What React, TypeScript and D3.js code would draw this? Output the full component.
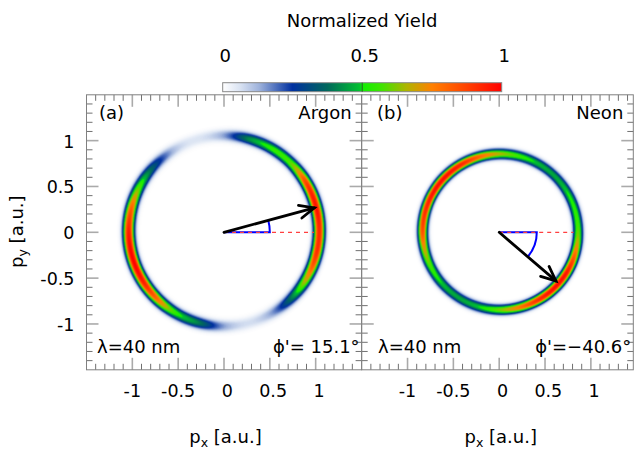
import React, { useMemo } from "react";
import * as d3 from "d3";

// ---------------- data ----------------
const majorTicks = [-1, -0.5, 0, 0.5, 1];
const tickLabels = ["-1", "-0.5", "0", "0.5", "1"];
const minorTicks = [
  -1.4, -1.3, -1.2, -1.1, -0.9, -0.8, -0.7, -0.6, -0.4, -0.3, -0.2, -0.1,
  0.1, 0.2, 0.3, 0.4, 0.6, 0.7, 0.8, 0.9, 1.1, 1.2, 1.3, 1.4,
];

// angular samples (degrees, counter-clockwise from +px)
const angleGrid = [0, 15, 30, 45, 60, 75, 90, 105, 120, 135, 150, 165, 180, 195, 210, 225, 240, 255, 270, 285, 300, 315, 330, 345];
const argonYield = [0.93, 0.97, 0.88, 0.6, 0.54, 0.42, 0.15, 0.06, 0.1, 0.3, 0.54, 0.8, 0.95, 1.0, 0.97, 0.8, 0.54, 0.4, 0.15, 0.07, 0.15, 0.4, 0.7, 0.9];
const neonYield = [0.6, 0.54, 0.5, 0.46, 0.48, 0.55, 0.66, 0.8, 0.93, 0.98, 0.97, 0.92, 0.85, 0.68, 0.55, 0.48, 0.46, 0.5, 0.62, 0.78, 0.92, 0.98, 0.95, 0.78];

// ring geometry (a.u.)
const argonRing = { cx: 0, cy: 0.015, r0: 1.04, w: 0.06, p: 2.4 };
const neonRing = { cx: 0.015, cy: 0.005, r0: 0.85, w: 0.052, p: 2.4 };

const argonPhi = 15.1;
const neonPhi = -40.6;
const argonArrowLen = 1.02;
const neonArrowLen = 0.815;
const argonMarkR = 0.5;
const neonMarkR = 0.41;
const argonDashLen = 0.98;
const neonDashLen = 0.81;

const cbStops = [0, 0.06, 0.13, 0.25, 0.375, 0.49, 0.5, 0.57, 0.66, 0.75, 0.87, 1];
const cbColors = ["#ffffff", "#dbe4f3", "#9fb3dc", "#0030a0", "#00685c", "#00c030", "#10f000", "#40e400", "#b0b400", "#ff8000", "#ff4400", "#ff0000"];
const cbTicks = [0, 0.5, 1];
const cbTickLabels = ["0", "0.5", "1"];

// ---------------- helpers ----------------
const FONT = "DejaVu Sans";
const cmap = d3.scaleLinear<string>().domain(cbStops).range(cbColors).interpolate(d3.interpolateRgb).clamp(true);
const LUT = d3.range(256).map((i) => d3.rgb(cmap(i / 255)));

function angInterp(vals: number[], thDeg: number) {
  const n = vals.length;
  const step = 360 / n;
  const t = (((thDeg % 360) + 360) % 360) / step;
  const i = Math.floor(t);
  const f = t - i;
  const p0 = vals[(i - 1 + n) % n], p1 = vals[i % n], p2 = vals[(i + 1) % n], p3 = vals[(i + 2) % n];
  const v = 0.5 * (2 * p1 + (-p0 + p2) * f + (2 * p0 - 5 * p1 + 4 * p2 - p3) * f * f + (-p0 + 3 * p1 - 3 * p2 + p3) * f * f * f);
  return Math.max(0, Math.min(1, v));
}

function ringImage(xs: any, ys: any, yields: number[], ring: any) {
  const R = ring.r0 + 0.2;
  const x0 = xs(ring.cx - R), x1 = xs(ring.cx + R);
  const y0 = ys(ring.cy + R), y1 = ys(ring.cy - R);
  const S = 2;
  const wpx = Math.ceil((x1 - x0) * S), hpx = Math.ceil((y1 - y0) * S);
  const canvas = document.createElement("canvas");
  canvas.width = wpx;
  canvas.height = hpx;
  const ctx = canvas.getContext("2d")!;
  const img = ctx.createImageData(wpx, hpx);
  for (let j = 0; j < hpx; j++) {
    for (let i = 0; i < wpx; i++) {
      const sx = x0 + (i + 0.5) / S, sy = y0 + (j + 0.5) / S;
      const dx = xs.invert(sx) - ring.cx, dy = ys.invert(sy) - ring.cy;
      const r = Math.hypot(dx, dy);
      const th = (Math.atan2(dy, dx) * 180) / Math.PI;
      const d = r - ring.r0;
      const v = angInterp(yields, th) * Math.exp(-Math.pow(Math.abs(d) / ring.w, ring.p));
      const c = LUT[Math.round(Math.max(0, Math.min(1, v)) * 255)];
      const k = (j * wpx + i) * 4;
      img.data[k] = c.r;
      img.data[k + 1] = c.g;
      img.data[k + 2] = c.b;
      img.data[k + 3] = 255;
    }
  }
  ctx.putImageData(img, 0, 0);
  return { href: canvas.toDataURL(), x: x0, y: y0, width: x1 - x0, height: y1 - y0 };
}

// ---------------- panel ----------------
function Panel(props: any) {
  const { xs, ys, left, right, top, bottom, yields, ring, phi, arrowLen, markR, dashLen, label, atom, phiText, lamX, labX } = props;
  const img = useMemo(() => ringImage(xs, ys, yields, ring), []);
  const ox = xs(0), oy = ys(0);
  const unit = xs(1) - xs(0);
  const phiR = (phi * Math.PI) / 180;
  const tipX = xs(arrowLen * Math.cos(phiR)), tipY = ys(arrowLen * Math.sin(phiR));
  const bx = ox - tipX, by = oy - tipY;
  const bl = Math.hypot(bx, by);
  const ux = bx / bl, uy = by / bl;
  const headLen = 16, headAng = (24 * Math.PI) / 180;
  const arm = (s: number) => {
    const c = Math.cos(s * headAng), sn = Math.sin(s * headAng);
    return [tipX + headLen * (ux * c - uy * sn), tipY + headLen * (ux * sn + uy * c)];
  };
  const a1 = arm(1), a2 = arm(-1);
  const mark = d3.path();
  mark.moveTo(ox, oy);
  mark.lineTo(ox + markR * unit, oy);
  mark.arc(ox, oy, markR * unit, 0, -phiR, phi > 0);

  const frameCol = "#808080";
  const majCol = "#aaaaaa";
  const minCol = "#707070";
  const ML = 12, ml = 6;
  const lines: any[] = [];
  const addX = (t: number, len: number, col: string, sw: number, k: string) => {
    const x = xs(t);
    lines.push(<line key={"b" + k} x1={x} x2={x} y1={bottom} y2={bottom - len} stroke={col} strokeWidth={sw} />);
    lines.push(<line key={"t" + k} x1={x} x2={x} y1={top} y2={top + len} stroke={col} strokeWidth={sw} />);
  };
  const addY = (t: number, len: number, col: string, sw: number, k: string) => {
    const y = ys(t);
    lines.push(<line key={"l" + k} x1={left} x2={left + len} y1={y} y2={y} stroke={col} strokeWidth={sw} />);
    lines.push(<line key={"r" + k} x1={right} x2={right - len} y1={y} y2={y} stroke={col} strokeWidth={sw} />);
  };
  minorTicks.forEach((t, i) => { addX(t, ml, minCol, 1, "mn" + i); addY(t, ml, minCol, 1, "mn" + i); });
  majorTicks.forEach((t, i) => { addX(t, ML, majCol, 1.6, "mj" + i); addY(t, ML, majCol, 1.6, "mj" + i); });

  const ts = { fontFamily: FONT, fontSize: 18, fill: "#000" } as any;
  return (
    <g>
      <image href={img.href} x={img.x} y={img.y} width={img.width} height={img.height} preserveAspectRatio="none" />
      <path d={mark.toString()} fill="none" stroke="#0000ff" strokeWidth={2} />
      <line x1={ox} y1={oy} x2={xs(dashLen)} y2={oy} stroke="#ff4040" strokeWidth={1.2} strokeDasharray="4 4" />
      <line x1={ox} y1={oy} x2={tipX} y2={tipY} stroke="#000" strokeWidth={2.8} strokeLinecap="round" />
      <polyline points={`${a1[0]},${a1[1]} ${tipX},${tipY} ${a2[0]},${a2[1]}`} fill="none" stroke="#000" strokeWidth={2.8} strokeLinejoin="miter" strokeLinecap="round" />
      {lines}
      <rect x={left} y={top} width={right - left} height={bottom - top} fill="none" stroke={frameCol} strokeWidth={1} />
      <text {...ts} x={labX} y={119}>{label}</text>
      <text {...ts} x={right - 10} y={119} textAnchor="end">{atom}</text>
      <text {...ts} x={lamX} y={353}>λ=40 nm</text>
      <text {...ts} x={right - 2} y={353} textAnchor="end">{phiText}</text>
      {majorTicks.map((t, i) => (
        <text key={"xl" + i} {...ts} fontSize={17.5} x={xs(t)} dx={t >= 0 ? 3.3 : 0} y={397} textAnchor="middle">{tickLabels[i]}</text>
      ))}
      <text {...ts} x={xs(0) + 1.5} y={443} textAnchor="middle">
        p<tspan fontSize={12.5} dy={4}>x</tspan><tspan dy={-4}> [a.u.]</tspan>
      </text>
    </g>
  );
}

export default function App() {
  const ys = d3.scaleLinear().domain([-1.5, 1.5]).range([369.8, 94.8]);
  const xsA = d3.scaleLinear().domain([-1.5, 1.5]).range([86.5, 361.5]);
  const xsB = d3.scaleLinear().domain([-1.5, 1.5]).range([361.7, 636.7]);
  const cb = d3.scaleLinear().domain([0, 1]).range([222.7, 501.7]);
  const ts = { fontFamily: FONT, fontSize: 18, fill: "#000" } as any;
  return (
    <svg width={637} height={449} style={{ position: "absolute", left: 0, top: 0, background: "#fff" }}>
      <rect x={0} y={0} width={637} height={449} fill="#fff" />
      <defs>
        <linearGradient id="cbg" x1="0" x2="1" y1="0" y2="0">
          {cbStops.map((s, i) => (
            <stop key={i} offset={s} stopColor={cbColors[i]} />
          ))}
        </linearGradient>
      </defs>
      <text {...ts} x={362} y={27} textAnchor="middle">Normalized Yield</text>
      <rect x={cb(0)} y={82.7} width={cb(1) - cb(0)} height={9} fill="url(#cbg)" stroke="#888" strokeWidth={1} />
      <line x1={cb(0.5)} x2={cb(0.5)} y1={82.7} y2={91.7} stroke="#2a5a2a" strokeWidth={1} />
      {cbTicks.map((t, i) => (
        <text key={i} {...ts} x={cb(t) + 2.5} y={61.5} textAnchor="middle">{cbTickLabels[i]}</text>
      ))}
      {majorTicks.map((t, i) => (
        <text key={"yl" + i} {...ts} fontSize={17.5} x={74.5} y={ys(t) + 7} textAnchor="end">{tickLabels[i]}</text>
      ))}
      <text {...ts} transform={`translate(22.6, 231.7) rotate(-90)`} textAnchor="middle">
        p<tspan fontSize={12.5} dy={4}>y</tspan><tspan dy={-4}> [a.u.]</tspan>
      </text>
      <Panel xs={xsA} ys={ys} left={86.5} right={361.6} top={94.8} bottom={369.8}
        yields={argonYield} ring={argonRing} phi={argonPhi} arrowLen={argonArrowLen} markR={argonMarkR} dashLen={argonDashLen}
        label="(a)" atom="Argon" phiText="ϕ'= 15.1°" lamX={97} labX={99} />
      <Panel xs={xsB} ys={ys} left={361.7} right={633.3} top={94.8} bottom={369.8}
        yields={neonYield} ring={neonRing} phi={neonPhi} arrowLen={neonArrowLen} markR={neonMarkR} dashLen={neonDashLen}
        label="(b)" atom="Neon" phiText="ϕ'=−40.6°" lamX={378} labX={377} />
    </svg>
  );
}
